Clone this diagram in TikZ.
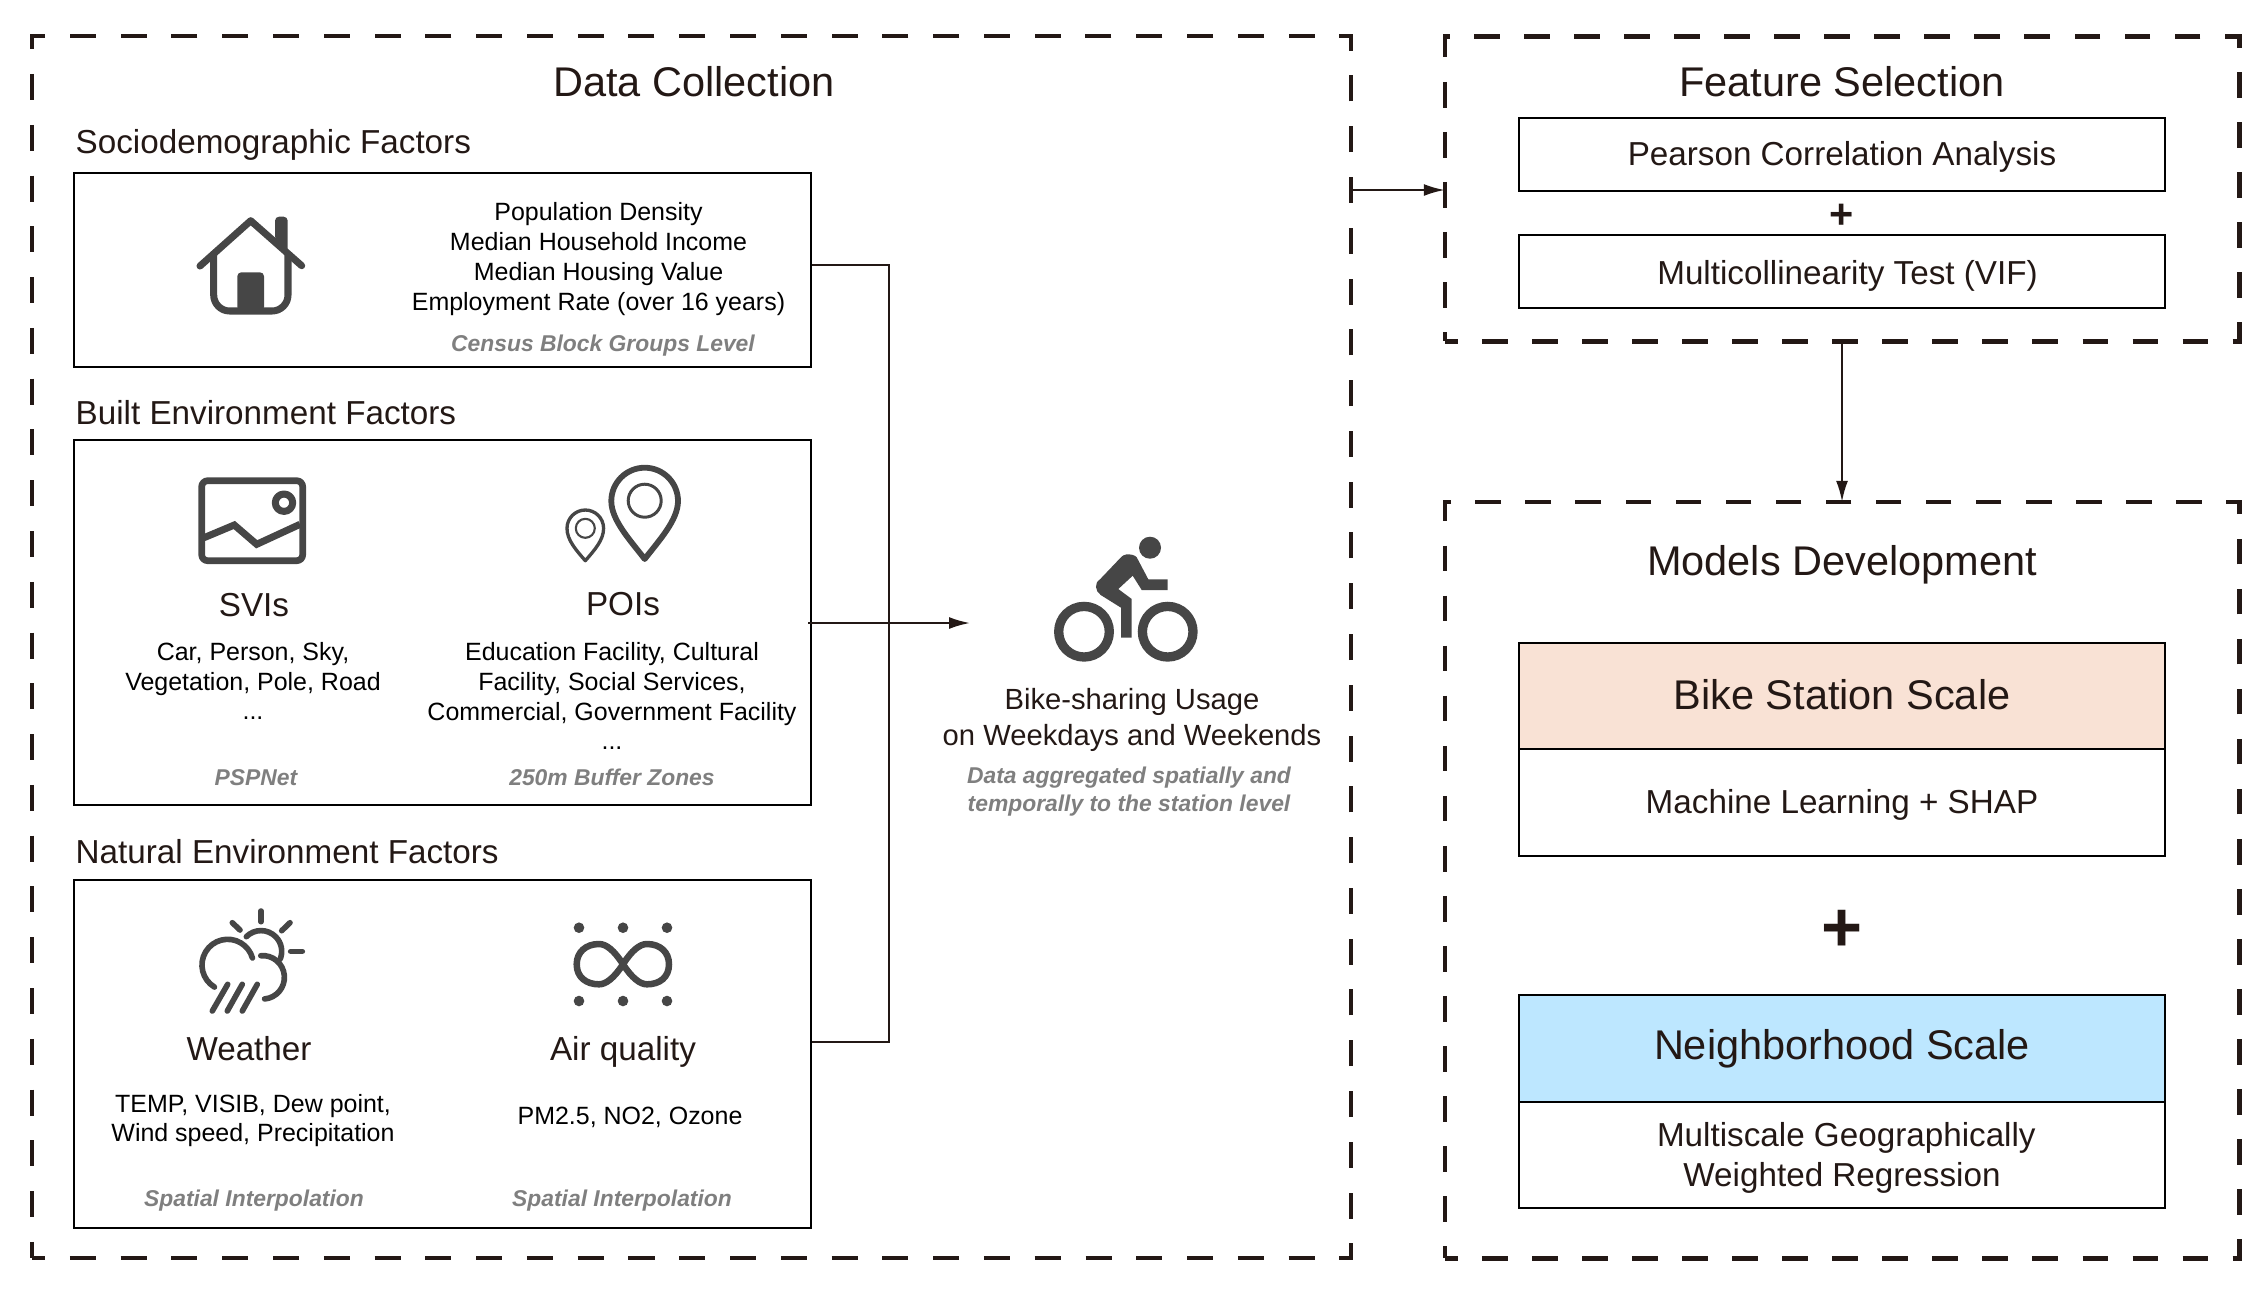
\documentclass[tikz,border=0pt]{standalone}
\usepackage{fontspec}
\setmainfont{Liberation Sans}
\usetikzlibrary{arrows.meta}
\definecolor{inkblack}{HTML}{231815}
\definecolor{icongray}{HTML}{464646}
\definecolor{notegray}{HTML}{7F7F7F}
\definecolor{stationfill}{HTML}{F9E2D5}
\definecolor{hoodfill}{HTML}{BDE7FF}
\newcommand{\nudged}[2]{\raisebox{#1}[\height][\depth]{#2}}

\begin{document}
\begin{tikzpicture}
[x=0.01cm,y=-0.01cm,%%%%%%%%%%%%%%%%%%%%%%%%%%%%%%
frame/.style={rectangle,draw=inkblack,line width=1.3pt,dash pattern=on 7.4pt off 7.04pt,dash phase=3.7pt,inner sep=0pt,outer sep=0pt},
rightframe/.style={frame,dash pattern=on 7.3pt off 6.93pt,dash phase=3.65pt},
box/.style={rectangle,draw=black,line width=0.6pt,inner sep=0pt},
bigtext/.style={text=inkblack,font=\fontsize{11.8}{14}\selectfont,align=center},
midtext/.style={text=inkblack,font=\fontsize{9.45}{11.3}\selectfont,align=center},
usetext/.style={text=inkblack,font=\fontsize{8.3}{10}\selectfont,align=center},
itemtext/.style={text=black,font=\fontsize{7.1}{8.5}\selectfont,align=center},
notetext/.style={text=notegray,font=\fontsize{6.5}{7.9}\selectfont\bfseries\itshape,align=center},
link/.style={draw=inkblack,line width=0.6pt},
tip/.style={-{Latex[length=0.21cm,width=0.12cm]}},
iconline/.style={draw=icongray,line cap=round,line join=round,line width=2pt},
]%%%%%%%%%%%%%%%%%%%%%%%%%%%%%%
\useasboundingbox (0,0) rectangle (2267,1290);

% dashed frames
\node[frame,minimum width=13.18cm,minimum height=12.21cm] (collect) at (691.5,647){};
\node[rightframe,minimum width=7.94cm,minimum height=3.045cm] (select) at (1842,189){};
\node[rightframe,minimum width=7.94cm,minimum height=7.56cm] (develop) at (1842,880){};

% titles
\node[bigtext] (collecttitle) at (694,82){Data Collection};
\node[bigtext] (selecttitle) at (1842,82){Feature Selection};
\node[bigtext] (developtitle) at (1842,565){Models Development};

% factor boxes
\node[box,minimum width=7.37cm,minimum height=1.94cm] (socio) at (442.5,270){};
\node[box,minimum width=7.37cm,minimum height=3.65cm] (built) at (442.5,622.5){};
\node[box,minimum width=7.37cm,minimum height=3.48cm] (natural) at (442.5,1054){};
\node[midtext,anchor=west,inner sep=0pt] (sociotitle) at (75,145){Sociodemographic Factors};
\node[midtext,anchor=west,inner sep=0pt] (builttitle) at (75,413){Built Environment Factors};
\node[midtext,anchor=west,inner sep=0pt] (naturaltitle) at (75,852){Natural Environment Factors};

\node[itemtext] (socioitems) at (598.5,259){Population Density\\Median Household Income\\Median Housing Value\\Employment Rate (over 16 years)};
\node[notetext] (socionote) at (603,346){Census Block Groups Level};

\node[midtext] (svis) at (254,605){SVIs};
\node[midtext] (pois) at (623,604.5){POIs};
\node[itemtext] (sviitems) at (253,681){Car, Person, Sky,\\Vegetation, Pole, Road\\...};
\node[itemtext] (poiitems) at (612,696){Education Facility, Cultural\\Facility, Social Services,\\Commercial, Government Facility\\...};
\node[notetext] (svinote) at (256,777.5){PSPNet};
\node[notetext] (poinote) at (612,777.5){250m Buffer Zones};

\node[midtext] (weather) at (249,1049){Weather};
\node[midtext] (air) at (623,1051.5){Air quality};
\node[itemtext] (weatheritems) at (253,1120.5){TEMP, VISIB, Dew point,\\Wind speed, Precipitation};
\node[itemtext] (airitems) at (630,1117.5){PM2.5, NO2, Ozone};
\node[notetext] (weathernote) at (254,1201){Spatial Interpolation};
\node[notetext] (airnote) at (622,1201){Spatial Interpolation};

% usage
\node[usetext] (usage) at (1132,720){Bike-sharing Usage\\on Weekdays and Weekends};
\node[notetext] (usagenote) at (1129,791.5){Data aggregated spatially and\\temporally to the station level};
\coordinate (usageout) at (808,623);
\coordinate (usagein) at (970,623);
\coordinate (busup) at (889,265);
\coordinate (busdown) at (889,1042);

% right column
\node[box,midtext,minimum width=6.46cm,minimum height=0.73cm] (pearson) at (1842,154.5){\nudged{-0.8pt}{Pearson Correlation Analysis}};
\node[text=inkblack,font=\fontsize{11.8}{14}\selectfont\bfseries] (plussmall) at (1842,216){+};
\node[box,midtext,minimum width=6.46cm,minimum height=0.73cm] (vif) at (1842,271.5){\nudged{-1.2pt}{\hspace*{0.11cm}Multicollinearity Test (VIF)}};

\node[box,bigtext,fill=stationfill,minimum width=6.46cm,minimum height=1.06cm] (stationhead) at (1842,696){\nudged{0.4pt}{Bike Station Scale}};
\node[box,midtext,minimum width=6.46cm,minimum height=1.07cm] (stationbody) at (1842,802.5){\nudged{-0.8pt}{Machine Learning + SHAP}};
\node[text=inkblack,font=\fontsize{20}{24}\selectfont\bfseries] (plusbig) at (1842,931){+};
\node[box,bigtext,fill=hoodfill,minimum width=6.46cm,minimum height=1.07cm] (hoodhead) at (1842,1048.5){Neighborhood Scale};
\node[box,midtext,minimum width=6.46cm,minimum height=1.06cm] (hoodbody) at (1842,1155){\nudged{-0.8pt}{\hspace*{0.087cm}Multiscale Geographically}\\\nudged{-0.8pt}{Weighted Regression}};

% connectors
\draw[link] (socio.east |- busup) -- (busup) -- (busdown) -- (natural.east |- busdown);
\draw[link,tip] (usageout) -- (usagein);
\draw[link,tip] (collect.east |- 0,190) -- (select.west |- 0,190);
\draw[link,tip] (select.south) -- (develop.north);

% house
\draw[iconline] (200,266) -- (250.7,220.7) -- (301.7,265.7);
\draw[iconline,rounded corners=1.6mm,line cap=butt] (213.7,255) -- (213.7,311) -- (288,311) -- (288,255);
\fill[icongray,rounded corners=0.4mm] (237.3,311) -- (237.3,272.3) -- (264,272.3) -- (264,311) -- cycle;
\fill[icongray,rounded corners=0.4mm] (275,240) -- (275,216.7) -- (287.7,216.7) -- (287.7,252) -- cycle;

% image
\draw[iconline,line width=1.9pt,rounded corners=0.6mm] (201.7,480.7) rectangle (302.7,560.7);
\draw[iconline] (284,502.7) circle (8.7);
\draw[iconline,line cap=butt,line join=miter] (204,537.7) -- (234.3,525) -- (256.7,544.3) -- (300,524.3);

% pins
\draw[iconline,line width=1.65pt] (644.7,559) .. controls (630,540) and (611.3,520) .. (611.3,501) .. controls (611.3,482.6) and (626.3,467.7) .. (644.7,467.7) .. controls (663.1,467.7) and (678,482.6) .. (678,501) .. controls (678,520) and (659.4,540) .. (644.7,559) -- cycle;
\draw[iconline,line width=0.85pt] (644.7,500.7) circle (16.5);
\draw[iconline,line width=0.95pt] (585.3,560.7) .. controls (576,550) and (567,540) .. (567,528.3) .. controls (567,518.2) and (575.2,510) .. (585.3,510) .. controls (595.4,510) and (603.6,518.2) .. (603.6,528.3) .. controls (603.6,540) and (594.6,550) .. (585.3,560.7) -- cycle;
\draw[iconline,line width=0.6pt] (585.3,528.3) circle (9.5);

% weather
\foreach \xa/\ya/\xb/\yb in {261/911/261/921.7,232.3/922.7/240/930,290/922.7/281.7/930.7,290.7/951.3/302.3/951.3,227.7/984.3/212.3/1011,242.3/984.3/227.3/1011,257.3/984.3/242.3/1011}
\draw[iconline,line width=1.6pt] (\xa,\ya) -- (\xb,\yb);
\draw[iconline,line width=1.6pt] (261,951.3) ++(135:0.207cm) arc[start angle=135,end angle=-22,radius=0.207cm];
\draw[iconline,line width=1.6pt] (227.7,965) ++(239:0.257cm) arc[start angle=239,end angle=16,radius=0.257cm];
\draw[iconline,line width=1.6pt] (262.7,977.3) ++(95:0.217cm) arc[start angle=95,end angle=-85,radius=0.217cm];

% air
\foreach \x in {579,623,667}{
\foreach \y in {927.7,1001}
\fill[icongray] (\x,\y) circle (5.3);
}
\draw[iconline,line width=1.85pt] (623,964.3) .. controls (632,950) and (640,944) .. (647,944) .. controls (660,944) and (669,952) .. (669,964.3) .. controls (669,977) and (660,984.3) .. (647,984.3) .. controls (640,984.3) and (632,978) .. (623,964.3) .. controls (614,950) and (606,944) .. (599,944) .. controls (586,944) and (576.7,952) .. (576.7,964.3) .. controls (576.7,977) and (586,984.3) .. (599,984.3) .. controls (606,984.3) and (614,978) .. (623,964.3) -- cycle;

% cyclist
\fill[icongray] (1150,547.7) circle (11);
\draw[icongray,line width=2.65pt] (1084,631.7) circle (25.3);
\draw[icongray,line width=2.65pt] (1167.7,631.7) circle (25.3);
\fill[icongray] (1126.7,554.3) .. controls (1131,554.3) and (1135,555) .. (1136.7,557.3) -- (1148.3,579.3) -- (1167.7,579.3) -- (1167.7,590) -- (1141.7,590) -- (1132.7,575.7) -- (1118.3,589) -- (1131.7,599) -- (1131.7,637.7) -- (1121,637.7) -- (1121,607.7) -- (1100.7,595) .. controls (1095,591) and (1094,583) .. (1100,579.3) -- (1120,558.3) .. controls (1122,556) and (1124,554.3) .. (1126.7,554.3) -- cycle;
\end{tikzpicture}
\end{document}
